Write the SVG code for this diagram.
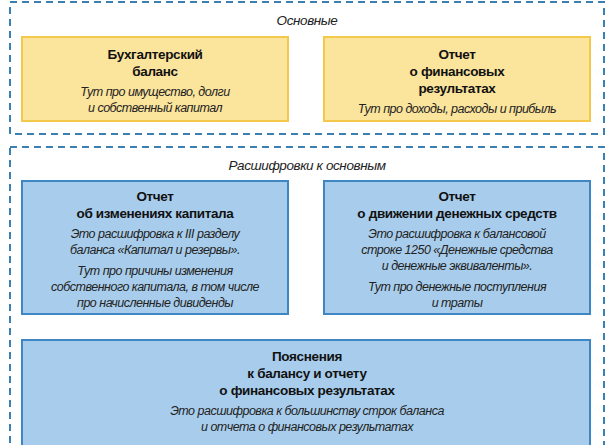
<svg xmlns="http://www.w3.org/2000/svg" width="615" height="445" viewBox="0 0 615 445">
<style>
.grp{fill:none;stroke:#3c7fb1;stroke-width:2;stroke-dasharray:7,5}
.y{fill:#fbe49c;stroke:#f3c84b;stroke-width:2}
.b{fill:#a8cdec;stroke:#3f87c3;stroke-width:2}
text{font-family:"Liberation Sans",Arial,sans-serif;text-anchor:middle;fill:#111}
.t{font-weight:bold;font-size:13.5px;letter-spacing:-0.35px}
.d{font-style:italic;font-size:12.5px;fill:#222;letter-spacing:-0.5px}
.h{font-style:italic;font-size:13.5px;fill:#222;letter-spacing:-0.4px}
</style>
<rect width="615" height="445" fill="#fff"/>
<g id="main">
<rect class="grp" x="10" y="2" width="594" height="132"/>
<text class="h" x="307" y="25">Основные</text>
</g>
<g id="decode">
<rect class="grp" x="10" y="147" width="594" height="310"/>
<text class="h" x="307" y="170">Расшифровки к основным</text>
</g>
<g id="balance">
<rect class="y" x="22" y="37" width="266" height="84"/>
<text class="t" x="155" y="59">Бухгалтерский</text>
<text class="t" x="155" y="76">баланс</text>
<text class="d" x="155" y="96">Тут про имущество, долги</text>
<text class="d" x="155" y="112">и собственный капитал</text>
</g>
<g id="finres">
<rect class="y" x="324" y="37" width="266" height="84"/>
<text class="t" x="457" y="59">Отчет</text>
<text class="t" x="457" y="76">о финансовых</text>
<text class="t" x="457" y="93">результатах</text>
<text class="d" x="457" y="113">Тут про доходы, расходы и прибыль</text>
</g>
<g id="capital">
<rect class="b" x="22" y="181" width="266" height="133"/>
<text class="t" x="155" y="201">Отчет</text>
<text class="t" x="155" y="218">об изменениях капитала</text>
<text class="d" x="155" y="238">Это расшифровка  к III разделу</text>
<text class="d" x="155" y="254">баланса «Капитал и резервы».</text>
<text class="d" x="155" y="275">Тут про причины изменения</text>
<text class="d" x="155" y="291">собственного капитала, в том числе</text>
<text class="d" x="155" y="307">про начисленные дивиденды</text>
</g>
<g id="cash">
<rect class="b" x="324" y="181" width="266" height="133"/>
<text class="t" x="457" y="201">Отчет</text>
<text class="t" x="457" y="218">о движении денежных средств</text>
<text class="d" x="457" y="238">Это расшифровка  к балансовой</text>
<text class="d" x="457" y="254">строке 1250 «Денежные  средства</text>
<text class="d" x="457" y="270">и денежные эквиваленты».</text>
<text class="d" x="457" y="291">Тут про денежные поступления</text>
<text class="d" x="457" y="307">и траты</text>
</g>
<g id="notes">
<rect class="b" x="22" y="340" width="568" height="120"/>
<text class="t" x="307" y="361">Пояснения</text>
<text class="t" x="307" y="378">к балансу и отчету</text>
<text class="t" x="307" y="395">о финансовых результатах</text>
<text class="d" x="307" y="415">Это расшифровка  к большинству строк баланса</text>
<text class="d" x="307" y="431">и отчета о финансовых результатах</text>
</g>
<g id="connectors"/>
</svg>
